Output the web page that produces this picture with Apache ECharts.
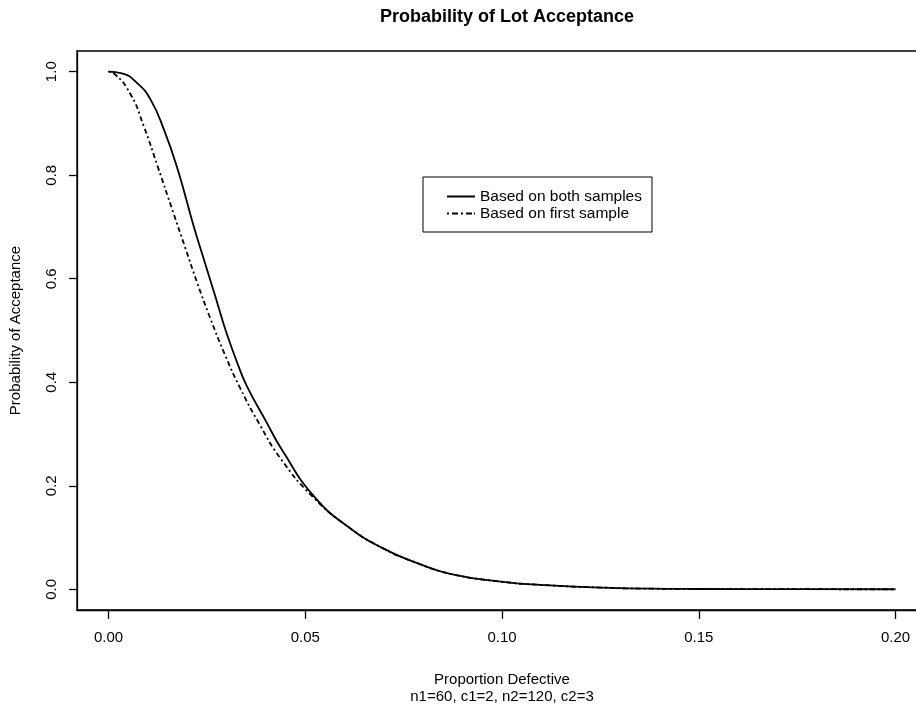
<!DOCTYPE html>
<html>
<head>
<meta charset="utf-8">
<title>Probability of Lot Acceptance</title>
<script src="https://cdn.jsdelivr.net/npm/echarts@6.0.0/dist/echarts.min.js"></script>
<style>
  html, body { margin: 0; padding: 0; background: #fff; overflow: hidden; }
  /* wider than the window: the plot box runs off the right edge, as in the scan */
  #oc-curve { width: 940px; height: 705px; }
</style>
</head>
<body>
<div id="oc-curve"></div>
<script>
// proportion defective / probability of acceptance
const pBoth = [0, 0.0034, 0.0073, 0.0107, 0.0141, 0.0176, 0.0216, 0.0245, 0.0271, 0.0297, 0.0327, 0.0352, 0.0400, 0.0442, 0.0524, 0.0614, 0.0698, 0.0783, 0.0868, 0.0996, 0.1123, 0.125, 0.1377, 0.15, 0.175, 0.2];
const accBoth = [1.0, 0.997, 0.978, 0.946, 0.888, 0.811, 0.703, 0.631, 0.567, 0.502, 0.438, 0.392, 0.325, 0.268, 0.178, 0.118, 0.079, 0.051, 0.030, 0.015, 0.0074, 0.0034, 0.0012, 0.0006, 0.0002, 0.0001];

const pFirst = [0, 0.0013, 0.0055, 0.0090, 0.0125, 0.0165, 0.0195, 0.0225, 0.0258, 0.0295, 0.0335, 0.0383, 0.0437, 0.0520, 0.0614, 0.0698, 0.0783, 0.0868, 0.0996, 0.1123, 0.125, 0.1377, 0.15, 0.175, 0.2];
const accFirst = [1.0, 0.997, 0.958, 0.894, 0.817, 0.727, 0.660, 0.593, 0.525, 0.455, 0.388, 0.320, 0.253, 0.178, 0.118, 0.079, 0.051, 0.030, 0.015, 0.0074, 0.0034, 0.0012, 0.0006, 0.0002, 0.0001];

const xTicks = [0, 0.05, 0.1, 0.15, 0.2];
const yTicks = [0, 0.2, 0.4, 0.6, 0.8, 1.0];

const seriesNames = ['Based on both samples', 'Based on first sample'];

const font = '"Liberation Sans", Arial, Helvetica, sans-serif';

// legend keys: a plain stroke and a dot-dash stroke
const solidKey = 'path://M0,0H28V2H0Z';
const dotDashKey = 'path://M0,0H2V2H0Z M5,0H11V2H5Z M14,0H16V2H14Z M19,0H25V2H19Z M27,0H28V2H27Z';

const chartDom = document.getElementById('oc-curve');
const myChart = echarts.init(chartDom, null, { renderer: 'canvas' });

function zip(xs, ys) {
  return xs.map(function (x, i) { return [x, ys[i]]; });
}

const axisStroke = { color: '#000', width: 1.3 };

const option = {
  animation: false,
  backgroundColor: '#fff',
  textStyle: { fontFamily: font, color: '#000' },
  title: {
    text: 'Probability of Lot Acceptance',
    left: 502,
    top: 3,
    textAlign: 'center',
    textStyle: { fontFamily: font, fontSize: 18, fontWeight: 'bold', color: '#000' }
  },
  legend: {
    data: [
      { name: seriesNames[0], icon: solidKey },
      { name: seriesNames[1], icon: dotDashKey }
    ],
    orient: 'vertical',
    left: 423,
    top: 177,
    padding: [11, 10, 10, 24],
    itemGap: 0,
    itemWidth: 28,
    itemHeight: 2,
    borderColor: '#000',
    borderWidth: 1,
    borderRadius: 0,
    itemStyle: { color: '#000' },
    textStyle: { fontFamily: font, fontSize: 15.5, color: '#000', lineHeight: 17 }
  },
  grid: {
    show: true,
    left: 77,
    top: 51,
    width: 850,
    height: 559,
    containLabel: false,
    outerBoundsMode: 'none',
    borderColor: '#000',
    borderWidth: 1.3,
    backgroundColor: 'transparent'
  },
  xAxis: {
    type: 'value',
    min: -0.008,
    max: 0.208,
    name: 'Proportion Defective\nn1=60, c1=2, n2=120, c2=3',
    nameLocation: 'middle',
    nameGap: 61,
    nameTextStyle: { fontFamily: font, fontSize: 15, lineHeight: 17, color: '#000' },
    axisLine: { show: true, onZero: false, lineStyle: axisStroke },
    splitLine: { show: false },
    axisTick: {
      show: true,
      inside: false,
      length: 9,
      customValues: xTicks,
      lineStyle: axisStroke
    },
    axisLabel: {
      customValues: xTicks,
      margin: 20,
      fontSize: 15,
      color: '#000',
      formatter: function (v) { return v.toFixed(2); }
    }
  },
  yAxis: {
    type: 'value',
    min: -0.04,
    max: 1.04,
    name: 'Probability of Acceptance',
    nameLocation: 'middle',
    nameRotate: 90,
    nameGap: 54,
    nameTextStyle: { fontFamily: font, fontSize: 15, color: '#000' },
    axisLine: { show: true, onZero: false, lineStyle: axisStroke },
    splitLine: { show: false },
    axisTick: {
      show: true,
      inside: false,
      length: 8,
      customValues: yTicks,
      lineStyle: axisStroke
    },
    axisLabel: {
      customValues: yTicks,
      rotate: 90,
      margin: 18,
      fontSize: 15,
      color: '#000',
      formatter: function (v) { return v.toFixed(1); }
    }
  },
  series: [
    {
      name: seriesNames[0],
      type: 'line',
      data: zip(pBoth, accBoth),
      showSymbol: false,
      symbol: 'none',
      smooth: true,
      color: '#000',
      lineStyle: { color: '#000', width: 1.8, type: 'solid' }
    },
    {
      name: seriesNames[1],
      type: 'line',
      data: zip(pFirst, accFirst),
      showSymbol: false,
      symbol: 'none',
      smooth: true,
      color: '#000',
      lineStyle: { color: '#000', width: 1.8, type: [2, 3, 5, 3] }
    }
  ]
};

option && myChart.setOption(option);
window.addEventListener('resize', function () {
  myChart.resize();
});
</script>
</body>
</html>
